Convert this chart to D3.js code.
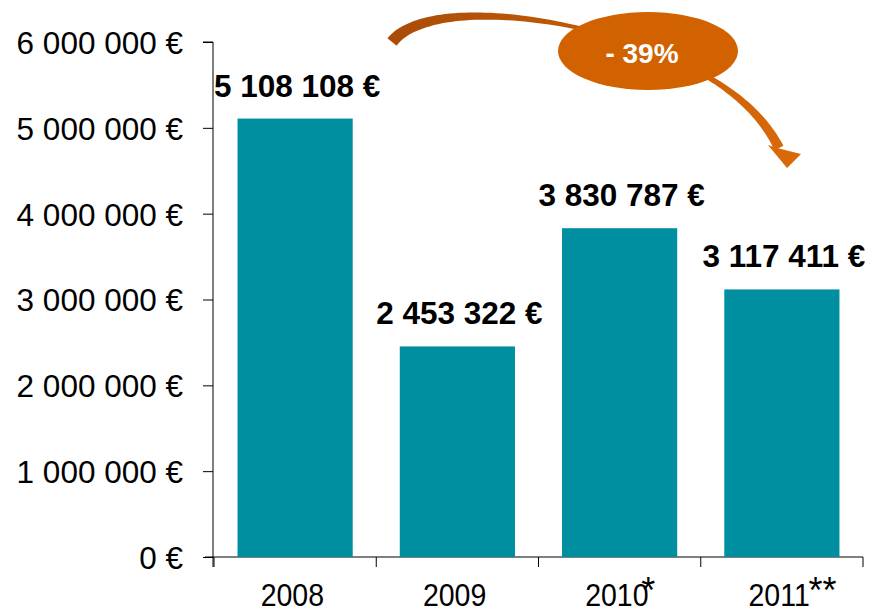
<!DOCTYPE html>
<html>
<head>
<meta charset="utf-8">
<script src="https://cdn.jsdelivr.net/npm/d3@7"></script>
<style>
  body { margin: 0; background: #fff; }
  text { font-family: "Liberation Sans", Arial, sans-serif; }
</style>
</head>
<body>
<div class="chart"></div>
<script>
const width = 887, height = 610;

// data
const years = ["2008", "2009", "2010", "2011"];
const marks = ["", "", "*", "**"];
const amounts = [5108108, 2453322, 3830787, 3117411];
const yTicks = [0, 1000000, 2000000, 3000000, 4000000, 5000000, 6000000];
const changeLabel = "- 39%";

const fr = d3.formatLocale({ decimal: ",", thousands: " ", grouping: [3], currency: ["", " €"] });
const euro = fr.format("$,");

const svg = d3.select(".chart").append("svg")
  .attr("width", width)
  .attr("height", height);

const x = d3.scaleBand()
  .domain(years)
  .range([214, 863])
  .paddingInner(0.29)
  .paddingOuter(0.145);

const y = d3.scaleLinear()
  .domain([0, 6000000])
  .range([557, 42]);

// y axis
const yAxis = svg.append("g")
  .attr("transform", "translate(213,0)")
  .call(d3.axisLeft(y).tickValues(yTicks).tickFormat(euro).tickSize(10).tickPadding(20));
yAxis.select(".domain").attr("d", "M-10," + y(6000000) + "H0V567");
yAxis.selectAll("text")
  .attr("font-size", 31.5)
  .attr("fill", "#000")
  .attr("dy", "0.36em");

// x axis (ticks on category boundaries)
const step = x.step();
const bounds = d3.range(years.length + 1).map(i => x.range()[0] + i * step);
svg.append("line")
  .attr("x1", 205).attr("x2", x.range()[1])
  .attr("y1", y(0)).attr("y2", y(0))
  .attr("stroke", "#000");
svg.selectAll(".xtick").data(bounds).enter().append("line")
  .attr("class", "xtick")
  .attr("x1", d => d).attr("x2", d => d)
  .attr("y1", y(0)).attr("y2", y(0) + 10)
  .attr("stroke", "#000");

// bars
svg.selectAll(".bar").data(years).enter().append("rect")
  .attr("class", "bar")
  .attr("x", d => x(d))
  .attr("width", x.bandwidth())
  .attr("y", (d, i) => y(amounts[i]))
  .attr("height", (d, i) => y(0) - y(amounts[i]))
  .attr("fill", "#008FA0");

// value labels
svg.selectAll(".val").data(years).enter().append("text")
  .attr("class", "val")
  .attr("x", d => x(d) + x.bandwidth() / 2 + 2)
  .attr("y", (d, i) => y(amounts[i]) - 22)
  .attr("text-anchor", "middle")
  .attr("font-size", 31.5)
  .attr("font-weight", "bold")
  .text((d, i) => euro(amounts[i]));

// year labels
const yl = svg.selectAll(".year").data(years).enter().append("g").attr("class", "year");
yl.append("text")
  .attr("x", d => x(d) + x.bandwidth() / 2 - 3)
  .attr("y", 606)
  .attr("text-anchor", "middle")
  .attr("font-size", 31)
  .attr("transform", d => {
    const cx = x(d) + x.bandwidth() / 2;
    return "translate(" + cx + ",0) scale(0.92,1) translate(" + (-cx) + ",0)";
  })
  .text(d => d)
  .each(function (d, i) {
    if (!marks[i]) return;
    const w = this.getComputedTextLength() * 0.92;
    const cx = x(d) + x.bandwidth() / 2 - 3;
    d3.select(this.parentNode).append("text")
      .attr("x", cx + w / 2 - (marks[i].length === 1 ? 7 : 1))
      .attr("y", 603)
      .attr("font-size", 36)
      .text(marks[i]);
  });

// curved arrow
const defs = svg.append("defs");
const grad = defs.append("linearGradient").attr("id", "arrowGrad")
  .attr("x1", "0%").attr("x2", "100%").attr("y1", "0%").attr("y2", "0%");
grad.append("stop").attr("offset", "0%").attr("stop-color", "#A94C06");
grad.append("stop").attr("offset", "100%").attr("stop-color", "#D86808");

function cubic(p0, p1, p2, p3, t) {
  const u = 1 - t;
  return [
    u * u * u * p0[0] + 3 * u * u * t * p1[0] + 3 * u * t * t * p2[0] + t * t * t * p3[0],
    u * u * u * p0[1] + 3 * u * u * t * p1[1] + 3 * u * t * t * p2[1] + t * t * t * p3[1]
  ];
}
const segA = [[392, 42], [420, 6], [530, 8], [640, 45]];
const segB = [[640, 45], [705, 70], [755, 100], [779, 148]];
let pts = [];
d3.range(0, 1.0001, 0.02).forEach(t => pts.push(cubic(...segA, t)));
d3.range(0.02, 1.0001, 0.02).forEach(t => pts.push(cubic(...segB, t)));
const n = pts.length;
const widthAt = i => {
  const s = i / (n - 1);
  if (s < 0.5) return 12 - 10 * (s / 0.5);
  return 2 + 8 * ((s - 0.5) / 0.5);
};
const left = [], right = [];
pts.forEach((p, i) => {
  const a = pts[Math.max(0, i - 1)], b = pts[Math.min(n - 1, i + 1)];
  let dx = b[0] - a[0], dy = b[1] - a[1];
  const len = Math.hypot(dx, dy);
  dx /= len; dy /= len;
  const w = widthAt(i) / 2;
  left.push([p[0] - dy * w, p[1] + dx * w]);
  right.push([p[0] + dy * w, p[1] - dx * w]);
});
svg.append("path")
  .attr("d", d3.line()(left.concat(right.reverse())) + "Z")
  .attr("fill", "url(#arrowGrad)");
svg.append("path")
  .attr("d", "M768,145 L777,148 L801,154 L787,168 Z")
  .attr("fill", "#D86808");

// change badge
svg.append("ellipse")
  .attr("cx", 648).attr("cy", 51)
  .attr("rx", 90).attr("ry", 39)
  .attr("fill", "#D26200");
svg.append("text")
  .attr("x", 642).attr("y", 63)
  .attr("text-anchor", "middle")
  .attr("font-size", 28)
  .attr("font-weight", "bold")
  .attr("fill", "#fff")
  .text(changeLabel);
</script>
</body>
</html>
